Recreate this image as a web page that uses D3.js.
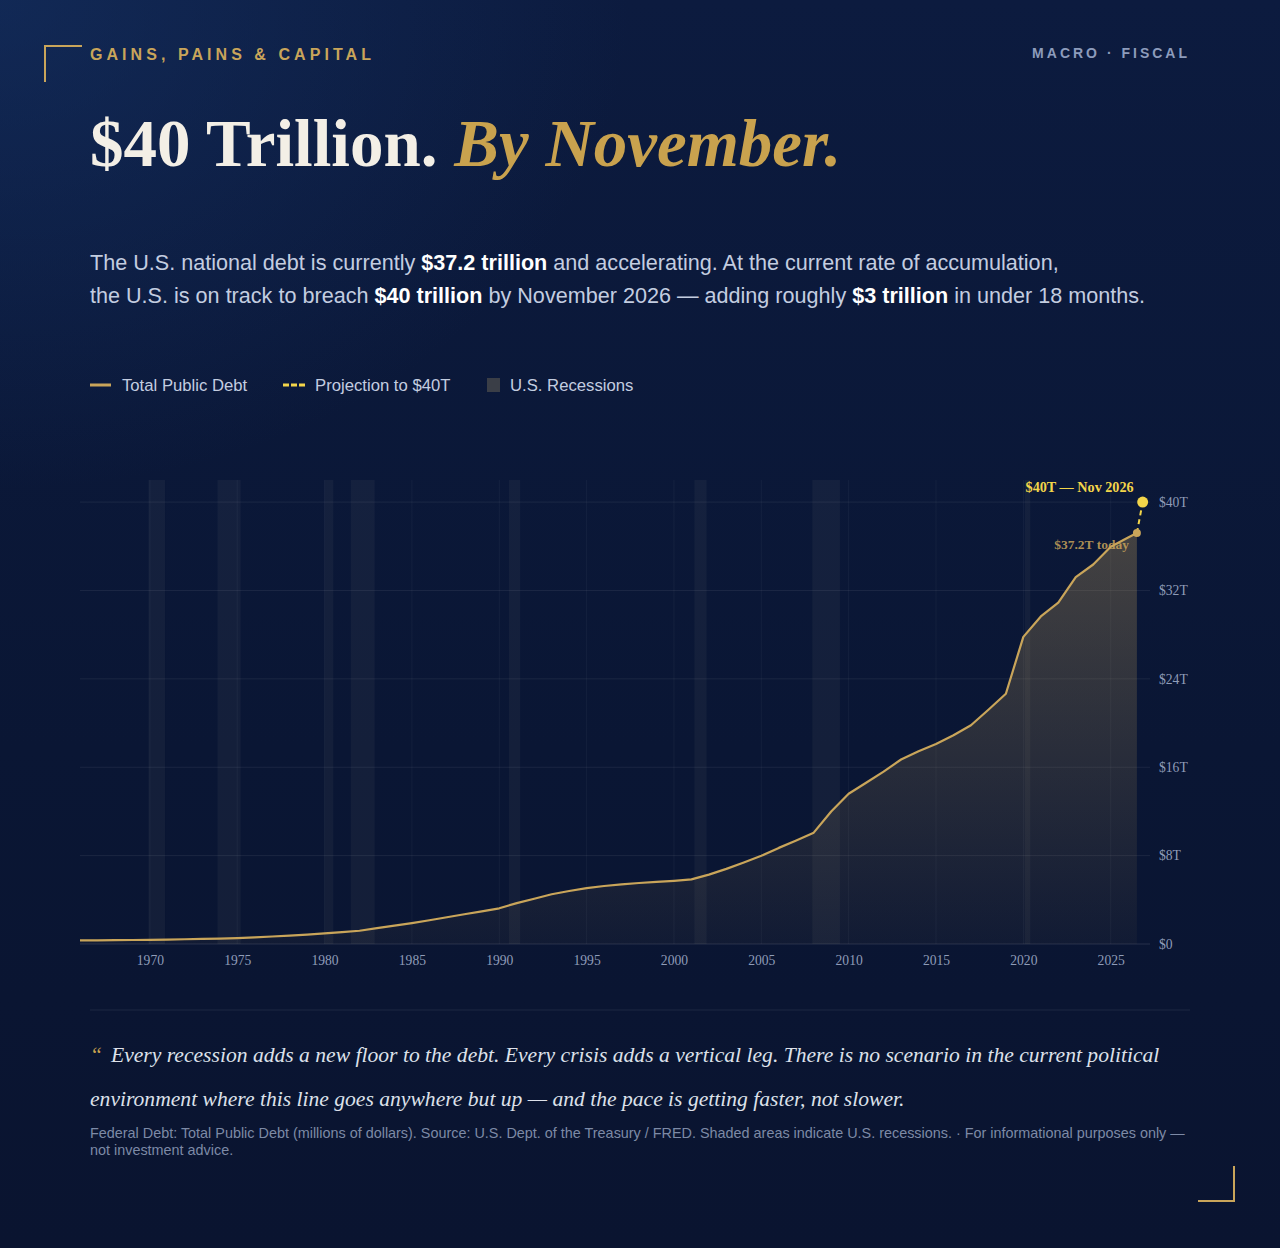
<!DOCTYPE html>
<html>
<head>
<meta charset="utf-8">
<script src="https://cdn.jsdelivr.net/npm/d3@7"></script>
<style>
    html, body { margin: 0; padding: 0; }
    body { width: 1280px; height: 1248px; overflow: hidden; background: #0a1633; }
    #page {
        position: relative; width: 1280px; height: 1248px; overflow: hidden;
        background:
            radial-gradient(ellipse 900px 700px at 0% 0%, rgba(22,52,104,0.55), rgba(22,52,104,0) 70%),
            linear-gradient(180deg, #0c1b3f 0%, #0a1634 60%, #0a1430 100%);
        font-family: "Liberation Sans", Arial, sans-serif;
    }
    .abs { position: absolute; white-space: nowrap; }
    .kicker { left: 90px; top: 47px; font-size: 16px; line-height: 16px; font-weight: bold; letter-spacing: 4.05px; color: #c9a55a; }
    .tag { right: 90px; top: 46px; font-size: 14px; line-height: 14px; font-weight: bold; letter-spacing: 3px; color: #8d9cbc; }
    .title { left: 90px; top: 110px; font-family: "Liberation Serif", "Times New Roman", serif; font-size: 67px; line-height: 67px; font-weight: bold; color: #f3efe6; }
    .title em { color: #c9a24e; font-style: italic; }
    .lede { left: 90px; top: 246px; font-size: 21.6px; line-height: 33px; color: #c3cde0; }
    .lede b { color: #ffffff; }
    .quote { left: 90px; top: 1033px; font-family: "Liberation Serif", "Times New Roman", serif; font-style: italic; font-size: 21.6px; line-height: 44px; color: #dde1ea; }
    .quote .mark { color: #c9a24e; margin-right: 9px; }
    .source { left: 90px; top: 1125px; width: 1100px; white-space: normal; font-size: 14.4px; line-height: 17px; color: #7d8aa6; }
    svg { position: absolute; left: 0; top: 0; }
</style>
</head>
<body>
<div id="page">
    <div class="abs kicker">GAINS, PAINS &amp; CAPITAL</div>
    <div class="abs tag">MACRO · FISCAL</div>
    <div class="abs title">$40 Trillion. <em>By November.</em></div>
    <div class="abs lede">The U.S. national debt is currently <b>$37.2 trillion</b> and accelerating. At the current rate of accumulation,<br>the U.S. is on track to breach <b>$40 trillion</b> by November 2026 — adding roughly <b>$3 trillion</b> in under 18 months.</div>
    <div class="abs quote"><span class="mark">“</span>Every recession adds a new floor to the debt. Every crisis adds a vertical leg. There is no scenario in the current political<br>environment where this line goes anywhere but up — and the pace is getting faster, not slower.</div>
    <div class="abs source">Federal Debt: Total Public Debt (millions of dollars). Source: U.S. Dept. of the Treasury / FRED. Shaded areas indicate U.S. recessions. · For informational purposes only — not investment advice.</div>
</div>
<script>
// DATA
const YEARS = [1966, 1967, 1968, 1969, 1970, 1971, 1972, 1973, 1974, 1975,
               1976, 1977, 1978, 1979, 1980, 1981, 1982, 1983, 1984, 1985,
               1986, 1987, 1988, 1989, 1990, 1991, 1992, 1993, 1994, 1995,
               1996, 1997, 1998, 1999, 2000, 2001, 2002, 2003, 2004, 2005,
               2006, 2007, 2008, 2009, 2010, 2011, 2012, 2013, 2014, 2015,
               2016, 2017, 2018, 2019, 2020, 2021, 2022, 2023, 2024, 2025,
               2026, 2026.5];
// trillions of dollars
const DEBT = [0.32, 0.33, 0.35, 0.36, 0.37, 0.40, 0.43, 0.46, 0.48, 0.53,
              0.60, 0.68, 0.76, 0.85, 0.96, 1.07, 1.20, 1.43, 1.66, 1.89,
              2.15, 2.42, 2.69, 2.96, 3.23, 3.70, 4.10, 4.50, 4.80, 5.05,
              5.25, 5.40, 5.52, 5.62, 5.72, 5.85, 6.28, 6.80, 7.38, 7.98,
              8.70, 9.37, 10.08, 12.0, 13.6, 14.6, 15.6, 16.7, 17.45, 18.1,
              18.9, 19.8, 21.2, 22.65, 27.8, 29.65, 30.9, 33.2, 34.35, 35.95,
              36.8, 37.2];
const PROJECTION = [{year: 2026.5, value: 37.2}, {year: 2026.83, value: 40}];
const RECESSIONS = [[1969.92, 1970.87], [1973.87, 1975.2], [1980.0, 1980.5],
                    [1981.5, 1982.87], [1990.55, 1991.2], [2001.17, 2001.87],
                    [2007.92, 2009.5], [2020.08, 2020.4]];
const X_TICKS = [1970, 1975, 1980, 1985, 1990, 1995, 2000, 2005, 2010, 2015, 2020, 2025];
const Y_TICKS = [0, 8, 16, 24, 32, 40];
const LEGEND = ["Total Public Debt", "Projection to $40T", "U.S. Recessions"];

const GOLD = "#c9a55a";
const YELLOW = "#f3d54a";
const CHART = { left: 80, right: 1150, top: 480, bottom: 944 };

const data = YEARS.map((year, i) => ({ year, value: DEBT[i] }));

const svg = d3.select("#page")
    .append("svg")
        .attr("width", 1280)
        .attr("height", 1248);

const defs = svg.append("defs");
const grad = defs.append("linearGradient")
    .attr("id", "areaFill")
    .attr("x1", 0).attr("y1", 0).attr("x2", 0).attr("y2", 1);
grad.append("stop").attr("offset", "0%").attr("stop-color", "#c9a55a").attr("stop-opacity", 0.30);
grad.append("stop").attr("offset", "100%").attr("stop-color", "#c9a55a").attr("stop-opacity", 0.04);

// SCALES
const x = d3.scaleLinear()
    .domain([1966, 2027.25])
    .range([CHART.left, CHART.right]);

const y = d3.scaleLinear()
    .domain([0, 42])
    .range([CHART.bottom, CHART.top]);

// RECESSION BANDS
svg.append("g")
    .selectAll("rect")
    .data(RECESSIONS)
    .enter()
    .append("rect")
        .attr("x", d => x(d[0]))
        .attr("y", CHART.top)
        .attr("width", d => x(d[1]) - x(d[0]))
        .attr("height", CHART.bottom - CHART.top)
        .attr("fill", "#a3a39c")
        .attr("opacity", 0.065);

// GRID
svg.append("g")
    .selectAll("line")
    .data(Y_TICKS)
    .enter()
    .append("line")
        .attr("x1", CHART.left)
        .attr("x2", CHART.right)
        .attr("y1", d => y(d))
        .attr("y2", d => y(d))
        .attr("stroke", "#ffffff")
        .attr("stroke-opacity", d => d === 0 ? 0.12 : 0.07);

svg.append("g")
    .selectAll("line")
    .data(X_TICKS)
    .enter()
    .append("line")
        .attr("x1", d => x(d))
        .attr("x2", d => x(d))
        .attr("y1", CHART.top)
        .attr("y2", CHART.bottom)
        .attr("stroke", "#ffffff")
        .attr("stroke-opacity", 0.045);

// AREA + LINE
const area = d3.area()
    .x(d => x(d.year))
    .y0(y(0))
    .y1(d => y(d.value));
svg.append("path")
    .datum(data)
    .attr("d", area)
    .attr("fill", "url(#areaFill)");

const line = d3.line()
    .x(d => x(d.year))
    .y(d => y(d.value));
svg.append("path")
    .datum(data)
    .attr("d", line)
    .attr("fill", "none")
    .attr("stroke", GOLD)
    .attr("stroke-width", 2.2)
    .attr("stroke-linejoin", "round");

// PROJECTION
svg.append("path")
    .datum(PROJECTION)
    .attr("d", line)
    .attr("fill", "none")
    .attr("stroke", YELLOW)
    .attr("stroke-width", 2)
    .attr("stroke-dasharray", "5,4");

const last = data[data.length - 1];
svg.append("circle")
    .attr("cx", x(last.year))
    .attr("cy", y(last.value))
    .attr("r", 4)
    .attr("fill", GOLD);

const target = PROJECTION[1];
svg.append("circle")
    .attr("cx", x(target.year))
    .attr("cy", y(target.value))
    .attr("r", 5.5)
    .attr("fill", YELLOW);

svg.append("text")
    .attr("x", x(target.year) - 9)
    .attr("y", y(target.value) - 10)
    .attr("text-anchor", "end")
    .attr("font-family", "Liberation Serif, serif")
    .attr("font-weight", "bold")
    .attr("font-size", 14.2)
    .attr("fill", YELLOW)
    .text("$40T — Nov 2026");

svg.append("text")
    .attr("x", x(last.year) - 8)
    .attr("y", y(last.value) + 16)
    .attr("text-anchor", "end")
    .attr("font-family", "Liberation Serif, serif")
    .attr("font-weight", "bold")
    .attr("font-size", 13.5)
    .attr("fill", GOLD)
    .attr("fill-opacity", 0.85)
    .text("$37.2T today");

// AXES
const xAxisCall = d3.axisBottom(x)
    .tickValues(X_TICKS)
    .tickFormat(d3.format("d"))
    .tickSize(0)
    .tickPadding(11);
const xAxis = svg.append("g")
    .attr("transform", `translate(0, ${CHART.bottom})`)
    .call(xAxisCall);

const yAxisCall = d3.axisRight(y)
    .tickValues(Y_TICKS)
    .tickFormat(d => d === 0 ? "$0" : `$${d}T`)
    .tickSize(0)
    .tickPadding(9);
const yAxis = svg.append("g")
    .attr("transform", `translate(${CHART.right}, 0)`)
    .call(yAxisCall);

[xAxis, yAxis].forEach(g => {
    g.select(".domain").remove();
    g.selectAll("text")
        .attr("font-family", "Liberation Serif, serif")
        .attr("font-size", 13.6)
        .attr("fill", "#8f9cb8");
});

// LEGEND
const legend = svg.append("g")
    .attr("font-family", "Liberation Sans, Arial, sans-serif")
    .attr("font-size", 16.7)
    .attr("fill", "#c3cde0");
const LEGEND_X = [90, 283, 487];
legend.append("line")
    .attr("x1", LEGEND_X[0]).attr("x2", LEGEND_X[0] + 21)
    .attr("y1", 385).attr("y2", 385)
    .attr("stroke", GOLD).attr("stroke-width", 3);
legend.append("line")
    .attr("x1", LEGEND_X[1]).attr("x2", LEGEND_X[1] + 22)
    .attr("y1", 385).attr("y2", 385)
    .attr("stroke", YELLOW).attr("stroke-width", 3)
    .attr("stroke-dasharray", "6,2");
legend.append("rect")
    .attr("x", LEGEND_X[2]).attr("y", 378)
    .attr("width", 13).attr("height", 14)
    .attr("fill", "#3a3e47");
legend.selectAll("text")
    .data(LEGEND)
    .enter()
    .append("text")
        .attr("x", (d, i) => LEGEND_X[i] + (i === 2 ? 23 : 32))
        .attr("y", 391)
        .text(d => d);

// DIVIDER + CORNERS
svg.append("line")
    .attr("x1", 90).attr("x2", 1190)
    .attr("y1", 1010).attr("y2", 1010)
    .attr("stroke", "#ffffff").attr("stroke-opacity", 0.08);

svg.append("path")
    .attr("d", "M45,82 V46 H82")
    .attr("fill", "none").attr("stroke", GOLD).attr("stroke-width", 2);
svg.append("path")
    .attr("d", "M1234,1166 V1201 H1198")
    .attr("fill", "none").attr("stroke", GOLD).attr("stroke-width", 2);
</script>
</body>
</html>
